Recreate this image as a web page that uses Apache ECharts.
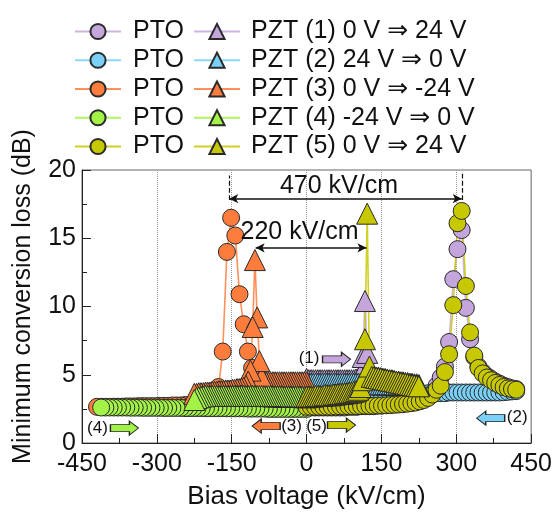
<!DOCTYPE html>
<html>
<head>
<meta charset="utf-8">
<script src="https://cdn.jsdelivr.net/npm/echarts@6/dist/echarts.min.js"></script>
<style>
html,body{margin:0;padding:0;background:#fff}
#chart{width:555px;height:515px}
</style>
</head>
<body>
<div id="chart"></div>
<script>
// bias field steps of the sweeps (kV/cm), magnitude
var E_PTO = [0,8.4,16.8,25.2,33.6,42,50.4,58.8,67.2,75.6,84,92.4,100.8,109.2,117.6,126,134.4,142.8,151.2,159.6,
  168,176.4,184.8,193.2,201.6,210,218.4,226.8,235.2,243.6,252,260.4,268.8,277.2,285.6,294,302.4,310.8,319.2,327.6,
  336,344.4,352.8,361.2,369.6,378,386.4,394.8,403.2,411.6,420];
var E_PZT = [0,4.5,9,13.5,18,22.5,27,31.5,36,40.5,45,49.5,54,58.5,63,67.5,72,76.5,81,85.5,
  90,94.5,99,103.5,108,112.5,117,121.5,126,130.5,135,139.5,144,148.5,153,157.5,162,166.5,171,175.5,
  180,184.5,189,193.5,198,202.5,207,211.5,216,220.5,225];

// minimum conversion loss (dB), ordered by |E|
var pto1 = [2.6,2.6,2.6,2.6,2.6,2.6,2.6,2.6,2.6,2.6,
  2.65,2.65,2.65,2.7,2.7,2.7,2.7,2.75,2.75,2.8,
  2.8,2.85,2.9,2.95,3.0,3.05,3.1,3.2,3.3,3.45,
  3.7,4.2,4.8,5.6,7.4,12.0,14.2,15.6,9.9,7.6,
  6.3,5.6,5.2,4.9,4.7,4.5,4.35,4.2,4.1,4.0,
  3.95];
var pto2 = [3.4,3.4,3.4,3.4,3.4,3.4,3.45,3.45,3.45,3.45,
  3.45,3.5,3.5,3.5,3.5,3.5,3.5,3.55,3.55,3.55,
  3.55,3.55,3.6,3.6,3.6,3.6,3.6,3.6,3.6,3.65,
  3.65,3.65,3.65,3.65,3.7,3.7,3.7,3.7,3.7,3.7,
  3.7,3.7,3.7,3.7,3.7,3.7,3.7,3.72,3.75,3.78,
  3.8];
var pto3 = [2.7,2.7,2.72,2.74,2.76,2.8,2.85,2.9,3.0,3.15,
  3.4,3.9,4.6,5.5,6.7,8.7,10.9,15.2,16.5,14.0,
  6.7,4.1,3.4,3.1,2.95,2.9,2.85,2.8,2.8,2.78,
  2.75,2.75,2.75,2.72,2.72,2.72,2.7,2.7,2.7,2.7,
  2.7,2.68,2.68,2.68,2.66,2.66,2.66,2.65,2.65,2.65,
  2.65];
var pto4 = [2.5,2.5,2.5,2.5,2.5,2.5,2.5,2.5,2.5,2.5,
  2.52,2.52,2.52,2.52,2.52,2.54,2.54,2.54,2.54,2.54,
  2.55,2.55,2.55,2.55,2.55,2.56,2.56,2.56,2.56,2.56,
  2.57,2.57,2.57,2.57,2.57,2.58,2.58,2.58,2.58,2.58,
  2.59,2.59,2.59,2.6,2.6,2.6,2.6,2.6,2.6,2.6];
var pto5 = [2.65,2.65,2.65,2.65,2.65,2.66,2.66,2.67,2.68,2.68,
  2.69,2.7,2.7,2.71,2.72,2.72,2.73,2.74,2.75,2.76,
  2.78,2.8,2.82,2.85,2.88,2.92,2.97,3.05,3.15,3.3,
  3.55,3.9,4.2,5.2,6.5,10.1,16.1,17.0,11.5,8.1,
  6.4,5.5,5.1,4.8,4.6,4.4,4.25,4.1,4.0,3.95,
  3.9];
var pzt1 = [4.7,4.6,4.6,4.6,4.6,4.6,4.6,4.6,4.6,4.6,
  4.6,4.6,4.6,4.6,4.6,4.6,4.6,4.6,4.6,4.6,
  4.6,4.6,4.65,4.7,5.0,6.3,10.4,6.6,5.3,4.9,
  4.85,4.8,4.8,4.75,4.7,4.7,4.65,4.6,4.6,4.55,
  4.5,4.5,4.45,4.45,4.4,4.4,4.35,4.35,4.3,4.3,
  4.25];
var pzt2 = [4.35,4.35,4.35,4.35,4.35,4.35,4.35,4.35,4.35,4.35,
  4.35,4.35,4.35,4.35,4.35,4.35,4.35,4.35,4.35,4.35,
  4.35,4.35,4.35,4.35,4.35,4.35,4.35,4.35,4.35,4.35,
  4.3,4.3,4.3,4.3,4.3,4.3,4.3,4.3,4.3,4.3,
  4.3,4.3,4.3,4.3,4.25,4.25,4.25,4.25,4.2,4.2,
  4.2];
var pzt3 = [4.45,4.45,4.45,4.45,4.45,4.45,4.45,4.45,4.45,4.45,
  4.45,4.45,4.45,4.45,4.45,4.45,4.45,4.45,4.45,4.45,
  4.8,6.0,9.2,13.4,8.5,5.3,4.5,4.2,4.05,4.0,
  3.95,3.95,3.9,3.9,3.85,3.85,3.85,3.8,3.8,3.8,
  3.75,3.75,3.75,3.7,3.7,3.7,3.65,3.65,3.65,3.6,
  3.6];
var pzt4 = [3.35,3.35,3.4,3.4,3.4,3.4,3.4,3.4,3.4,3.4,
  3.4,3.42,3.42,3.42,3.42,3.42,3.44,3.44,3.44,3.44,
  3.45,3.45,3.45,3.45,3.45,3.45,3.45,3.45,3.45,3.45,
  3.45,3.45,3.45,3.45,3.45,3.45,3.45,3.45,3.45,3.45,
  3.45,3.45,3.45,3.45,3.45,3.45,3.42,3.4,3.35,3.3,
  3.15];
var pzt5 = [3.4,3.4,3.4,3.4,3.45,3.45,3.45,3.45,3.5,3.5,
  3.5,3.5,3.55,3.55,3.6,3.6,3.6,3.65,3.65,3.7,
  3.7,3.75,3.8,3.9,4.1,4.6,7.6,16.8,5.6,4.85,
  4.82,4.78,4.75,4.72,4.68,4.65,4.62,4.58,4.55,4.52,
  4.48,4.45,4.42,4.38,4.35,4.32,4.28,4.25,4.22,4.18,
  4.15];

var PZT_NAMES = ['PZT (1) 0 V \u21D2 24 V','PZT (2) 24 V \u21D2 0 V','PZT (3) 0 V \u21D2 -24 V',
  'PZT (4) -24 V \u21D2 0 V','PZT (5) 0 V \u21D2 24 V'];
var PTO_NAMES = ['PTO1','PTO2','PTO3','PTO4','PTO5'];
var COLORS = ['#c4a6dd','#7ad0f7','#ff7d3c','#a2f247','#c8c800'];
var SIGNS = [1,1,-1,-1,1];

var FONT = "'Liberation Sans', Arial, 'DejaVu Sans', sans-serif";

function pairs(E, sign, vals){
  return vals.map(function(v,i){ return [sign*E[i], v]; });
}

function mkSeries(name, color, symbol, size, data){
  return {
    name: name, type: 'line', data: data,
    symbol: symbol, symbolSize: size, showAllSymbol: true,
    itemStyle: {color: color, borderColor: '#2a2a2a', borderWidth: 1},
    lineStyle: {color: color, width: 1.6, opacity: 0.85},
    emphasis: {disabled: true},
    animation: false
  };
}

var series = [];
var ptoVals = [pto1,pto2,pto3,pto4,pto5];
var pztVals = [pzt1,pzt2,pzt3,pzt4,pzt5];
for (var k=0;k<5;k++){
  series.push(mkSeries(PTO_NAMES[k], COLORS[k], 'circle', 17, pairs(E_PTO, SIGNS[k], ptoVals[k])));
}
for (var k=0;k<5;k++){
  series.push(mkSeries(PZT_NAMES[k], COLORS[k], 'triangle', 21, pairs(E_PZT, SIGNS[k], pztVals[k])));
}

var ARROW = 'path://M0,3.5 L19,3.5 L19,0 L28,7 L19,14 L19,10.5 L0,10.5 Z';
function note(x, y, txt, size){
  return {coord:[x,y], symbol:'rect', symbolSize:1, itemStyle:{color:'rgba(0,0,0,0)'},
    label:{show:true, position:'inside', formatter: txt, fontSize: size, fontFamily: FONT, color:'#111'}};
}
function blockArrow(x, y, color, left){
  return {coord:[x,y], symbol: ARROW, symbolSize:[28,14], symbolRotate: left ? 180 : 0,
    itemStyle:{color: color, borderColor:'#222', borderWidth:1}, label:{show:false}};
}

series.push({
  name: 'notes', type: 'scatter', data: [], z: 10, silent: true, animation: false,
  markLine: {
    silent: true, animation: false, symbol: ['arrow','arrow'], symbolSize: [7,9],
    label: {show: false},
    lineStyle: {color: '#111', width: 1.5, type: 'solid'},
    data: [
      [{coord:[-155,17.9]},{coord:[311,17.9]}],
      [{coord:[-102,14.3]},{coord:[120,14.3]}],
      [{coord:[-155,17.8], symbol:'none', lineStyle:{type:'dashed', width:1.2}},
       {coord:[-155,19.6], symbol:'none', lineStyle:{type:'dashed', width:1.2}}],
      [{coord:[311,17.8], symbol:'none', lineStyle:{type:'dashed', width:1.2}},
       {coord:[311,19.8], symbol:'none', lineStyle:{type:'dashed', width:1.2}}]
    ]
  },
  markPoint: {
    silent: true, animation: false,
    data: [
      note(65, 18.85, '470 kV/cm', 25),
      note(-14, 15.45, '220 kV/cm', 25),
      note(5, 6.2, '(1)', 17),
      note(422, 1.9, '(2)', 17),
      note(-30, 1.24, '(3)', 17),
      note(20, 1.24, '(5)', 17),
      note(-419, 1.09, '(4)', 17),
      blockArrow(60, 6.13, COLORS[0], false),
      blockArrow(369, 1.82, COLORS[1], true),
      blockArrow(-81, 1.24, COLORS[2], true),
      blockArrow(70, 1.31, COLORS[4], false),
      blockArrow(-365, 1.09, COLORS[3], false)
    ]
  }
});

var chart = echarts.init(document.getElementById('chart'));
chart.setOption({
  animation: false,
  backgroundColor: '#fff',
  textStyle: {fontFamily: FONT},
  grid: {left: 82, right: 23, top: 170, bottom: 71, show: true, borderColor: '#666', borderWidth: 1},
  legend: [
    {data: PTO_NAMES, orient: 'vertical', left: 74, top: 19, padding: 0,
     itemWidth: 46, itemHeight: 19, itemGap: 3.75, selectedMode: false,
     formatter: function(){ return 'PTO'; },
     textStyle: {fontSize: 25, fontFamily: FONT, color: '#111', padding: [0,0,0,7]}},
    {data: PZT_NAMES, orient: 'vertical', left: 193, top: 19, padding: 0,
     itemWidth: 46, itemHeight: 19, itemGap: 3.75, selectedMode: false,
     textStyle: {fontSize: 25, fontFamily: FONT, color: '#111', padding: [0,0,0,6]}}
  ],
  xAxis: {
    type: 'value', min: -450, max: 450, interval: 150,
    name: 'Bias voltage (kV/cm)', nameLocation: 'middle', nameGap: 41,
    nameTextStyle: {fontSize: 26, fontFamily: FONT, color: '#111'},
    axisLine: {onZero: false, lineStyle: {color: '#222', width: 1}},
    axisTick: {inside: true, length: 9, lineStyle: {color: '#222'}},
    minorTick: {show: true, splitNumber: 2, length: 5, lineStyle: {color: '#222'}},
    axisLabel: {fontSize: 25, fontFamily: FONT, color: '#111', margin: 9},
    splitLine: {show: true, lineStyle: {type: 'dotted', color: '#999', width: 1}}
  },
  yAxis: {
    type: 'value', min: 0, max: 20, interval: 5,
    name: 'Minimum conversion loss (dB)', nameLocation: 'middle', nameGap: 46,
    nameTextStyle: {fontSize: 25, fontFamily: FONT, color: '#111', padding: [0,0,0,20]},
    axisLine: {show: true, onZero: false, lineStyle: {color: '#222', width: 1}},
    axisTick: {show: true, inside: true, length: 9, lineStyle: {color: '#222'}},
    minorTick: {show: true, splitNumber: 2, length: 5, lineStyle: {color: '#222'}},
    axisLabel: {fontSize: 25, fontFamily: FONT, color: '#111', margin: 6},
    splitLine: {show: false}
  },
  series: series
});
</script>
</body>
</html>
